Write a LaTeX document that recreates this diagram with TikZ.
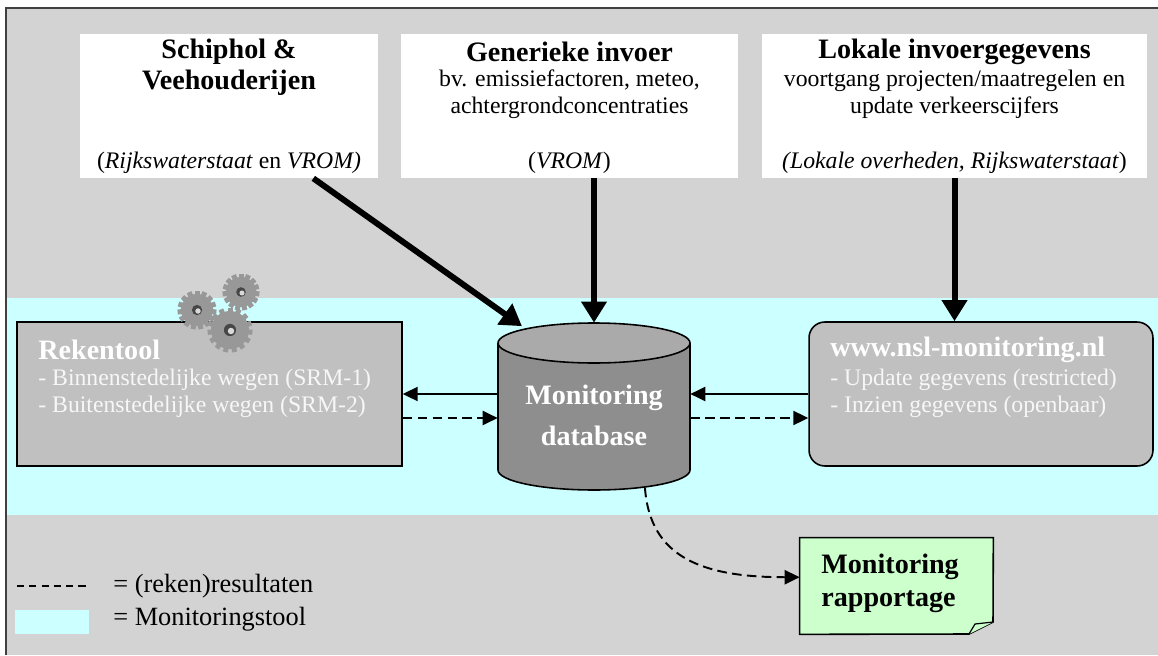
\documentclass[tikz,border=0pt]{standalone}
\usepackage{fontspec}
\setmainfont{Liberation Serif}
\usetikzlibrary{arrows.meta}

\definecolor{bggray}{RGB}{211,211,211}
\definecolor{bandcyan}{RGB}{204,255,255}
\definecolor{toolgray}{RGB}{192,192,192}
\definecolor{dbside}{RGB}{142,142,142}
\definecolor{dbtop}{RGB}{170,170,170}
\definecolor{notegreen}{RGB}{204,255,204}
\definecolor{framegray}{RGB}{64,64,64}
\definecolor{geargray}{RGB}{152,152,152}

\begin{document}
\begin{tikzpicture}[x=0.02cm,y=-0.02cm,
		inbox/.style={fill=white,inner sep=0pt,minimum height=2.88cm},
		toolbox/.style={draw,line width=0.9pt,fill=toolgray,inner sep=0pt,minimum height=2.88cm},
		headtext/.style={font=\fontsize{16}{17.6}\selectfont\bfseries,align=center,inner sep=0pt},
		subtext/.style={font=\fontsize{13.5}{15.3}\selectfont,align=center,inner sep=0pt},
		tooltitle/.style={font=\fontsize{16}{17.6}\selectfont\bfseries,text=white,inner sep=0pt},
		toolitems/.style={font=\fontsize{13.5}{15.3}\selectfont,text=gray!6,align=left,inner sep=0pt},
		legtext/.style={font=\fontsize{15}{17}\selectfont,inner sep=0pt},
		bigarrow/.style={line width=3.4pt,-{Triangle[length=12pt,width=14pt]}},
		thinarrow/.style={line width=1.1pt,-{Triangle[length=8.5pt,width=8pt]}},
		dashpat/.style={dash pattern=on 5.5pt off 3pt}]
		\useasboundingbox (0,0) rectangle (1158,655);
		\fill[white] (0,0) rectangle (1158,655);
		\fill[bggray] (6,8) rectangle (1158,655);
		\fill[bandcyan] (7,298) rectangle (1158,515);
		\draw[framegray,line width=1.2pt] (6,655)--(6,8)--(1158,8);
		
		% input boxes
		\node[inbox,minimum width=5.96cm] (schiphol) at (229,106) {};
		\node[inbox,minimum width=6.74cm] (generiek) at (569.5,106) {};
		\node[inbox,minimum width=7.7cm] (lokaal) at (954.5,106) {};
		\node[headtext] (schtitle) at (229,67.5) {Schiphol \&\\Veehouderijen};
		\node[subtext] (schsrc) at (229,163) {(\textit{Rijkswaterstaat} en \textit{VROM)}};
		\node[headtext] (gentitle) at (569.5,52) {Generieke invoer};
		\node[subtext] (gensub) at (569.5,94.5) {bv. emissiefactoren, meteo,\\achtergrondconcentraties};
		\node[subtext] (gensrc) at (569.5,163) {(\textit{VROM})};
		\node[headtext] (loktitle) at (954.5,52) {Lokale invoergegevens};
		\node[subtext] (loksub) at (954.5,94.5) {voortgang projecten/maatregelen en\\update verkeerscijfers};
		\node[subtext] (loksrc) at (954.5,163) {\textit{(Lokale overheden, Rijkswaterstaat})};
		
		% tools
		\node[toolbox,minimum width=7.7cm] (rekentool) at (209.5,394) {};
		\node[tooltitle,anchor=west] (rektitle) at (38,350) {Rekentool};
		\node[toolitems,anchor=west] (rekitems) at (38,393.5) {- Binnenstedelijke wegen (SRM-1)\\- Buitenstedelijke wegen (SRM-2)};
		\node[toolbox,rounded corners=9pt,minimum width=6.88cm] (nsl) at (981,394) {};
		\node[tooltitle,anchor=west] (nsltitle) at (830,350) {www.nsl-monitoring.nl};
		\node[toolitems,anchor=west] (nslitems) at (830,393.5) {- Update gegevens (restricted)\\- Inzien gegevens (openbaar)};
		
		\foreach \cx/\cy/\r in {241/292/15,197/310/16,230/330/19}{
			\fill[geargray] (\cx,\cy) circle[radius=\r];
			\foreach \a in {0,24,...,336}
				\fill[geargray,rotate around={\a:(\cx,\cy)}] (\cx-2.5,\cy-\r-3.5) rectangle (\cx+2.5,\cy-\r+2);
			\fill[gray!55!black] (\cx,\cy) circle[radius=0.32*\r];
			\fill[gray!30] (\cx+1,\cy+1) circle[radius=0.17*\r];
		}
		
		% database
		\node[minimum width=3.84cm,minimum height=3.34cm,inner sep=0pt] (db) at (594,406.5) {};
		\fill[dbside] (498,343)--(498,470) arc[start angle=180,end angle=0,x radius=96,y radius=20]--(690,343)--cycle;
		\draw[line width=0.9pt] (498,343)--(498,470) arc[start angle=180,end angle=0,x radius=96,y radius=20]--(690,343);
		\filldraw[fill=dbtop,line width=0.9pt] (594,343) ellipse[x radius=96,y radius=20];
		\node[font=\fontsize{16}{23.2}\selectfont\bfseries,text=white,align=center,inner sep=0pt] (dbtext) at (594,415.5) {Monitoring\\database};
		
		% report
		\node[minimum width=3.86cm,minimum height=1.92cm,inner sep=0pt] (rapport) at (896.5,586) {};
		\filldraw[fill=notegreen,line width=0.9pt] (rapport.north west)--(rapport.north east)--(993,622)--(969,634)--(rapport.south west)--cycle;
		\filldraw[fill=notegreen,line width=0.7pt] (993,622)--(975,624)--(969,634);
		\node[font=\fontsize{16}{18.7}\selectfont\bfseries,align=left,inner sep=0pt,anchor=west] (raptext) at (821,583.5) {Monitoring\\rapportage};
		
		% connectors
		\coordinate (solidrow) at (0,394);
		\coordinate (dashrow) at (0,418);
		\draw[bigarrow] ([xshift=48pt]schiphol.south)--([xshift=-41pt,yshift=-2pt]db.north);
		\draw[bigarrow] (generiek.south -| db.north)--(db.north);
		\draw[bigarrow] (lokaal.south)--(lokaal.south |- nsl.north);
		\draw[thinarrow] (db.west |- solidrow)--(rekentool.east |- solidrow);
		\draw[thinarrow,dashpat] (rekentool.east |- dashrow)--(db.west |- dashrow);
		\draw[thinarrow] (nsl.west |- solidrow)--(db.east |- solidrow);
		\draw[thinarrow,dashpat] (db.east |- dashrow)--(nsl.west |- dashrow);
		\draw[thinarrow,dashpat] ([xshift=29pt,yshift=1.5pt]db.south) .. controls +(5,70) and +(-97,0) .. ([yshift=5pt]rapport.west);
		
		% legend
		\coordinate (legA) at (17,586);
		\coordinate (legB) at (90,586);
		\draw[line width=1.1pt,dash pattern=on 4pt off 3pt] (legA)--(legB);
		\node[legtext,anchor=west] (legres) at (113,586) {= (reken)resultaten};
		\fill[bandcyan] (15,610) rectangle (89,634);
		\node[legtext,anchor=west] (legtool) at (113,619) {= Monitoringstool};
	\end{tikzpicture}
\end{document}
